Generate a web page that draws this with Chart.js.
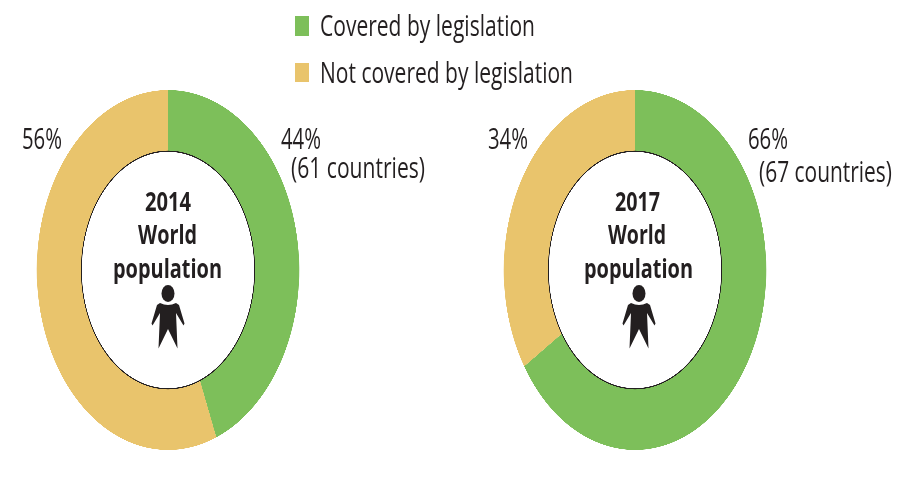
<!DOCTYPE html>
<html>
<head>
<meta charset="utf-8">
<title>World population covered by legislation</title>
<script src="https://cdn.jsdelivr.net/npm/chart.js@4"></script>
<style>
    html, body { margin: 0; padding: 0; background: #fff; }
    #page { position: relative; width: 900px; height: 483px; overflow: hidden; font-family: "Open Sans", sans-serif; color: #231f20; }
    .dona { position: absolute; top: 90px; width: 360px; height: 360px; transform: scaleX(0.7292); }
    .txt { position: absolute; white-space: nowrap; line-height: 1; transform-origin: 0 0; }
    .cuadro { position: absolute; left: 295px; width: 14px; height: 19.5px; }
    #personas { position: absolute; left: 0; top: 0; }
</style>
</head>
<body>
<div id="page">
    <div class="cuadro" id="cuadroVerde" style="top:16px"></div>
    <div class="cuadro" id="cuadroAmarillo" style="top:62.5px"></div>
    <div class="dona" style="left:-12px"><canvas id="dona2014" width="360" height="360"></canvas></div>
    <div class="dona" style="left:455px"><canvas id="dona2017" width="360" height="360"></canvas></div>
    <svg id="personas" width="900" height="483">
        <defs>
            <g id="persona" fill="#231f20">
                <ellipse cx="168" cy="293.5" rx="6.5" ry="8.5"/>
                <path d="M160 303 Q168 307 176 303 L179 305 L184.5 323.5 L183.5 325.5 L176 313 L177.5 348.5 L168 329 L158.5 348.5 L160 313 L152.5 325.5 L151.5 323.5 L157 305 Z"/>
            </g>
        </defs>
        <use href="#persona"/>
        <use href="#persona" x="471" y="0"/>
    </svg>
    <div id="textos"></div>
</div>
<script>
const years = ['2014', '2017'];
const categories = ['Covered by legislation', 'Not covered by legislation'];
const covered2014 = [44, 56];
const covered2017 = [66, 34];
const colors = ['#7dbf5a', '#e9c46c'];

// [texto, izquierda, derecha, linea base, tamano, peso]
const textos = [
    [categories[0], 320, 535, 36, 29, 400],
    [categories[1], 320, 573, 83, 29, 400],
    ['56%', 22, 62, 149, 29, 400],
    ['44%', 281, 321, 149, 29, 400],
    ['(61 countries)', 291, 425, 178, 29, 400],
    ['34%', 488, 528, 149, 29, 400],
    ['66%', 748, 788, 149, 29, 400],
    ['(67 countries)', 759, 892, 182, 29, 400],
    [years[0], 145, 191, 211, 27, 700],
    ['World', 138, 197, 244, 27, 700],
    ['population', 113, 222, 278, 27, 700],
    [years[1], 615, 660, 211, 27, 700],
    ['World', 608, 666, 244, 27, 700],
    ['population', 584, 693, 278, 27, 700]
];

document.getElementById('cuadroVerde').style.background = colors[0];
document.getElementById('cuadroAmarillo').style.background = colors[1];

// Plugin para la linea negra del circulo interior
const bordeInterior = {
    id: 'bordeInterior',
    afterDatasetsDraw(chart) {
        let arco = chart.getDatasetMeta(0).data[0];
        let ctx = chart.ctx;
        ctx.save();
        ctx.strokeStyle = '#231f20';
        ctx.lineWidth = 1.2;
        ctx.beginPath();
        ctx.arc(arco.x, arco.y, arco.innerRadius, 0, Math.PI * 2);
        ctx.stroke();
        ctx.restore();
    }
};

function crearDona(id, valores) {
    new Chart(document.getElementById(id), {
        type: 'doughnut',
        data: {
            labels: categories,
            datasets: [{ data: valores, backgroundColor: colors, borderWidth: 0 }]
        },
        options: {
            responsive: false,
            devicePixelRatio: 3,
            animation: false,
            cutout: '66%',
            layout: { padding: 0 },
            plugins: { legend: { display: false }, tooltip: { enabled: false } }
        },
        plugins: [bordeInterior]
    });
}

crearDona('dona2014', covered2014);
crearDona('dona2017', covered2017);

// Texto real, comprimido a lo ancho como en el original
function ponerTextos() {
    let caja = document.getElementById('textos');
    textos.forEach(t => {
        let el = document.createElement('div');
        el.className = 'txt';
        el.textContent = t[0];
        el.style.fontSize = t[4] + 'px';
        el.style.fontWeight = t[5];
        el.style.left = t[1] + 'px';
        el.style.top = (t[3] - t[4] * 0.888) + 'px';
        caja.appendChild(el);
        el.style.transform = 'scaleX(' + ((t[2] - t[1]) / el.getBoundingClientRect().width) + ')';
    });
}

ponerTextos();
document.fonts.ready.then(() => {
    document.getElementById('textos').innerHTML = '';
    ponerTextos();
});
</script>
</body>
</html>
